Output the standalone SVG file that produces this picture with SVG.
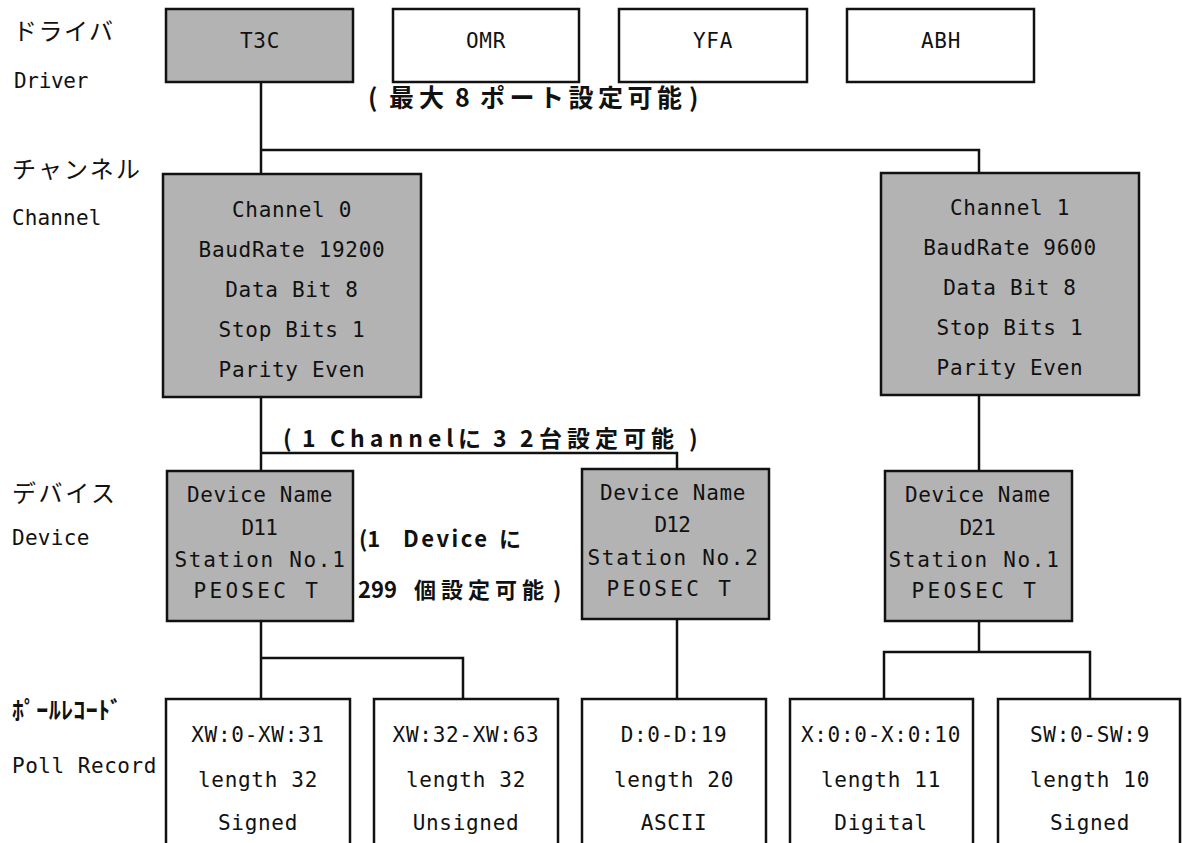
<svg xmlns="http://www.w3.org/2000/svg" width="1182" height="843" viewBox="0 0 1182 843">
<style>
.box{stroke:#111;stroke-width:2.5}
.g{fill:#b3b3b3}
.w{fill:#fff}
.m{font-family:"DejaVu Sans Mono","Liberation Mono",monospace;font-size:21px;letter-spacing:0.7px;fill:#111;text-anchor:middle}
.ml{font-family:"DejaVu Sans Mono","Liberation Mono",monospace;font-size:21px;letter-spacing:0.7px;fill:#111}
.jp{font-family:"Noto Sans CJK JP",sans-serif;font-size:24px;fill:#111}
.lb{font-family:"Noto Sans CJK JP",sans-serif;font-weight:bold;font-size:22px;fill:#111}
.c path{stroke:#111;stroke-width:2.5;fill:none}
</style>
<rect width="1182" height="843" fill="#fff"/>
<g id="left-labels">
<text class="jp" x="13" y="40" textLength="100" lengthAdjust="spacing">ドライバ</text>
<text class="ml" x="14" y="88" textLength="75">Driver</text>
<text class="jp" x="12" y="178" textLength="128" lengthAdjust="spacing">チャンネル</text>
<text class="ml" x="12" y="225" textLength="90">Channel</text>
<text class="jp" x="12" y="502" textLength="103" lengthAdjust="spacing">デバイス</text>
<text class="ml" x="12" y="545" textLength="78">Device</text>
<text class="jp" x="12" y="719" style="font-weight:bold" textLength="110" lengthAdjust="spacing">ﾎﾟｰﾙﾚｺｰﾄﾞ</text>
<text class="ml" x="12" y="773" textLength="145">Poll Record</text>
</g>
<g class="c" id="connectors">
<path d="M261 82V174"/>
<path d="M261 150H979V173"/>
<path d="M261 397V471"/>
<path d="M261 453H677V469"/>
<path d="M979 395V471"/>
<path d="M261 621V699"/>
<path d="M261 658H463V699"/>
<path d="M677 619V699"/>
<path d="M979 621V652"/>
<path d="M884 699V652H1090V699"/>
</g>
<g id="drv-t3c"><rect class="box g" x="166" y="9" width="187" height="73"/><text class="m" x="260" y="48">T3C</text></g>
<g id="drv-omr"><rect class="box w" x="393" y="9" width="186" height="73"/><text class="m" x="486" y="48">OMR</text></g>
<g id="drv-yfa"><rect class="box w" x="619" y="9" width="188" height="73"/><text class="m" x="713" y="48">YFA</text></g>
<g id="drv-abh"><rect class="box w" x="847" y="9" width="187" height="73"/><text class="m" x="941" y="48">ABH</text></g>
<g id="label-ports"><text class="lb" y="107" style="font-size:25px"><tspan x="368">(</tspan><tspan x="389" style="letter-spacing:5px">最大</tspan><tspan x="455">8</tspan><tspan x="480" style="letter-spacing:4.5px">ポート設定可能</tspan><tspan x="689">)</tspan></text></g>
<g id="ch0"><rect class="box g" x="163" y="174" width="258" height="223"/>
<text class="m" x="292" y="217">Channel 0</text>
<text class="m" x="292" y="257">BaudRate 19200</text>
<text class="m" x="292" y="297">Data Bit 8</text>
<text class="m" x="292" y="337">Stop Bits 1</text>
<text class="m" x="292" y="377">Parity Even</text></g>
<g id="ch1"><rect class="box g" x="881" y="173" width="258" height="222"/>
<text class="m" x="1010" y="215">Channel 1</text>
<text class="m" x="1010" y="255">BaudRate 9600</text>
<text class="m" x="1010" y="295">Data Bit 8</text>
<text class="m" x="1010" y="335">Stop Bits 1</text>
<text class="m" x="1010" y="375">Parity Even</text></g>
<g id="label-devices"><text class="lb" y="447" style="font-size:23px"><tspan x="283">(</tspan><tspan x="302">1</tspan><tspan x="330" style="letter-spacing:5px">Channel</tspan><tspan x="458">に</tspan><tspan x="493">3</tspan><tspan x="520">2</tspan><tspan x="539" style="letter-spacing:5px">台設定可能</tspan><tspan x="689">)</tspan></text></g>
<g id="d11"><rect class="box g" x="167" y="471" width="186" height="150"/>
<text class="m" x="260" y="502" textLength="146">Device Name</text>
<text class="m" x="260" y="535" textLength="37">D11</text>
<text class="m" x="260" y="567" textLength="171">Station No.1</text>
<text class="m" x="256" y="598" textLength="125">PEOSEC T</text></g>
<g id="label-records"><text class="lb" y="547"><tspan x="359">(1</tspan><tspan x="403" style="letter-spacing:2.5px">Device</tspan><tspan x="499">に</tspan></text>
<text class="lb" y="598"><tspan x="358">299</tspan><tspan x="414" style="letter-spacing:5px">個設定可能</tspan><tspan x="553">)</tspan></text></g>
<g id="d12"><rect class="box g" x="582" y="469" width="187" height="150"/>
<text class="m" x="673" y="500" textLength="146">Device Name</text>
<text class="m" x="673" y="532" textLength="37">D12</text>
<text class="m" x="673" y="565" textLength="171">Station No.2</text>
<text class="m" x="669" y="596" textLength="125">PEOSEC T</text></g>
<g id="d21"><rect class="box g" x="885" y="471" width="187" height="150"/>
<text class="m" x="978" y="502" textLength="146">Device Name</text>
<text class="m" x="978" y="535" textLength="37">D21</text>
<text class="m" x="974" y="567" textLength="171">Station No.1</text>
<text class="m" x="974" y="598" textLength="125">PEOSEC T</text></g>
<g id="pr1"><rect class="box w" x="166" y="699" width="184" height="160"/>
<text class="m" x="258" y="742">XW:0-XW:31</text><text class="m" x="258" y="787">length 32</text><text class="m" x="258" y="830">Signed</text></g>
<g id="pr2"><rect class="box w" x="374" y="699" width="184" height="160"/>
<text class="m" x="466" y="742">XW:32-XW:63</text><text class="m" x="466" y="787">length 32</text><text class="m" x="466" y="830">Unsigned</text></g>
<g id="pr3"><rect class="box w" x="582" y="699" width="184" height="160"/>
<text class="m" x="674" y="742">D:0-D:19</text><text class="m" x="674" y="787">length 20</text><text class="m" x="674" y="830">ASCII</text></g>
<g id="pr4"><rect class="box w" x="790" y="699" width="183" height="160"/>
<text class="m" x="881" y="742">X:0:0-X:0:10</text><text class="m" x="881" y="787">length 11</text><text class="m" x="881" y="830">Digital</text></g>
<g id="pr5"><rect class="box w" x="998" y="699" width="182" height="160"/>
<text class="m" x="1090" y="742">SW:0-SW:9</text><text class="m" x="1090" y="787">length 10</text><text class="m" x="1090" y="830">Signed</text></g>
</svg>
